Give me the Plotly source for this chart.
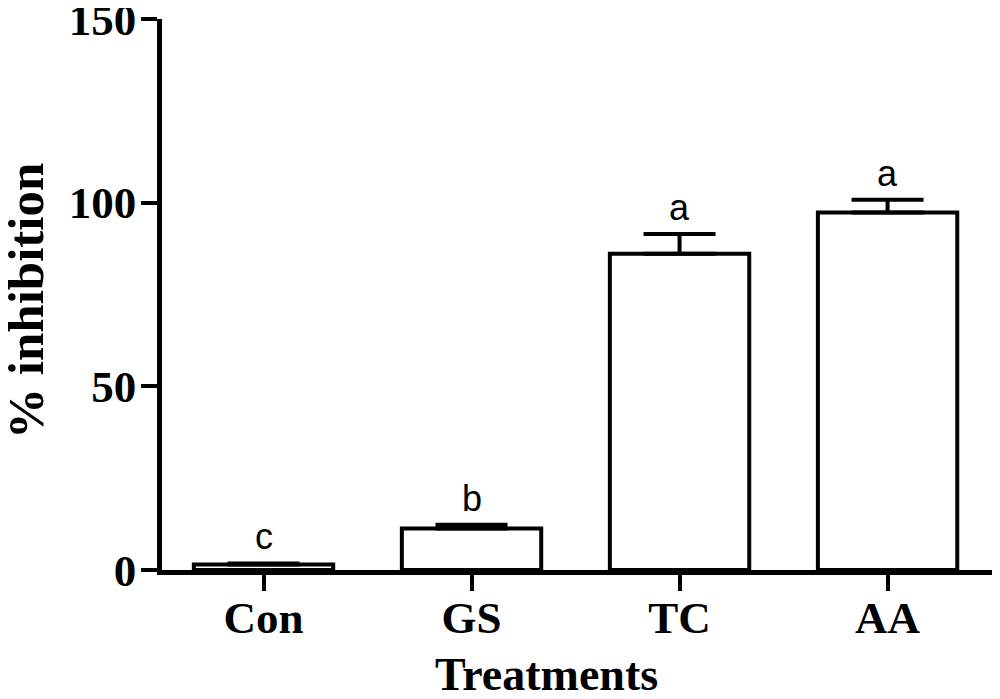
import plotly.graph_objects as go

categories = ["Con", "GS", "TC", "AA"]
values = [1.5, 11.3, 86.1, 97.3]
errors = [0.3, 1.0, 5.4, 3.5]
letters = ["c", "b", "a", "a"]
y_ticks = [0, 50, 100, 150]

# page has an 8px body margin: the figure is sized to fit the 1000x699 window
W, H = 992, 691
L, R, T, B = 154, 8, 11, 129
pw, ph = W - L - R, H - T - B

serif = "Liberation Serif, Times New Roman, serif"
sans = "Liberation Sans, Arial, sans-serif"

fig = go.Figure()
fig.add_trace(go.Bar(
    x=categories, y=values, width=0.67,
    marker=dict(color="white", line=dict(color="black", width=4)),
    error_y=dict(type="data", symmetric=False, array=errors,
                 arrayminus=[0] * len(errors), color="black",
                 thickness=4, width=36),
    showlegend=False,
))

for c, v, e, t in zip(categories, values, errors, letters):
    fig.add_annotation(x=c, y=v + e, text=t, showarrow=False,
                       yanchor="bottom", yshift=4,
                       font=dict(family=sans, size=36, color="black"))

# page coords -> figure coords: subtract 8
fig.add_annotation(xref="paper", yref="paper",
                   x=(26 - 8 - L) / pw, y=(T + ph - (301 - 8)) / ph,
                   text="<b>% inhibition</b>", textangle=-90, showarrow=False,
                   xanchor="center", yanchor="middle",
                   font=dict(family=serif, size=51, color="black"))
fig.add_annotation(xref="paper", yref="paper",
                   x=(546 - 8 - L) / pw, y=(T + ph - (674 - 8)) / ph,
                   text="<b>Treatments</b>", showarrow=False,
                   xanchor="center", yanchor="middle",
                   font=dict(family=serif, size=46, color="black"))

fig.update_layout(
    width=W, height=H,
    margin=dict(l=L, r=R, t=T, b=B, pad=0, autoexpand=False),
    paper_bgcolor="white", plot_bgcolor="white",
    xaxis=dict(range=[-0.488, 3.502], showline=True, linecolor="black", linewidth=4.5,
               ticks="outside", ticklen=16, tickwidth=4, tickcolor="black",
               showgrid=False, zeroline=False, ticklabelstandoff=-12,
               automargin=False,
               tickfont=dict(family=serif, size=45, color="black"),
               tickvals=categories, ticktext=["<b>%s</b>" % c for c in categories]),
    yaxis=dict(range=[0, 150], showline=True, linecolor="black", linewidth=4.5,
               ticks="outside", ticklen=16, tickwidth=4, tickcolor="black",
               showgrid=False, zeroline=False, ticklabeloverflow="allow",
               ticklabelstandoff=-4, automargin=False,
               tickvals=y_ticks, ticktext=["<b>%d</b>" % v for v in y_ticks],
               tickfont=dict(family=serif, size=45, color="black")),
)

fig.write_html("out.html")
